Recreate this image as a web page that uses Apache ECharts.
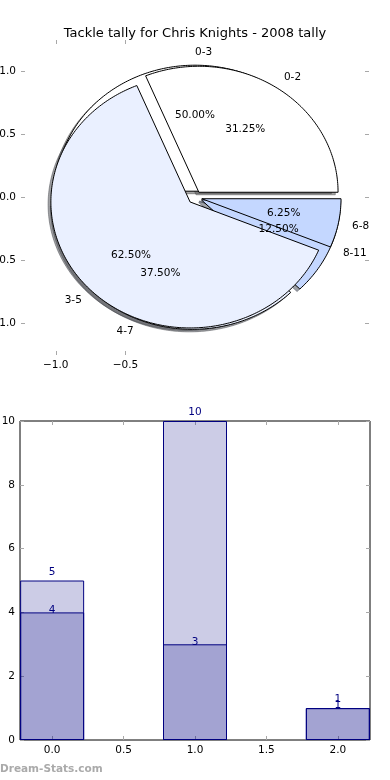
<!DOCTYPE html>
<html><head><meta charset="utf-8">
<script src="https://cdn.jsdelivr.net/npm/echarts@6/dist/echarts.min.js"></script>
<style>html,body{margin:0;padding:0;background:#fff}#c{width:390px;height:780px}</style>
</head><body><div id="c"></div>
<script>
// ---- data ----
const titleText = 'Tackle tally for Chris Knights - 2008 tally';
const barPositions = [0, 1, 2];
const seriesLightValues = [5, 10, 1];   // drawn first (lighter bars), also pie A
const seriesDarkValues = [4, 3, 1];     // drawn on top, also pie B
const pieALabels = ['0-2', '3-5', '6-8'];
const pieBLabels = ['0-3', '4-7', '8-11'];
const pieExplode = [0.05, 0.05, 0.05];
const pieColors = ['#ffffff', '#eaf0ff', '#c4d7ff'];
const pieShadowColors = ['rgba(77,77,77,0.5)', 'rgba(70,72,77,0.5)', 'rgba(59,65,77,0.5)'];
const pieXTicks = [-1.0, -0.5];
const pieYTicks = [-1.0, -0.5, 0.0, 0.5, 1.0];
const barXTicks = [0, 0.5, 1, 1.5, 2];
const watermark = 'Dream-Stats.com';

// ---- wedge geometry (matplotlib-like pie) ----
function buildWedges(values, labels) {
  const total = values.reduce((a, b) => a + b, 0);
  let acc = 0;
  return values.map((v, i) => {
    const t1 = 360 * acc / total; acc += v;
    const t2 = 360 * acc / total;
    const m = (t1 + t2) / 2 * Math.PI / 180;
    const e = pieExplode[i];
    return { t1, t2, m, cx: e * Math.cos(m), cy: e * Math.sin(m), color: pieColors[i],
      shadow: pieShadowColors[i], label: labels[i], pct: (100 * v / total).toFixed(2) + '%' };
  });
}
const wedgesA = buildWedges(seriesLightValues, pieALabels);
const wedgesB = buildWedges(seriesDarkValues, pieBLabels);
const allWedges = wedgesB.concat(wedgesA); // B first (below), A on top

function wedgePoints(api, w, dx, dy) {
  const cx = w.cx + dx, cy = w.cy + dy;
  const pts = [api.coord([cx, cy])];
  const n = Math.max(4, Math.ceil(w.t2 - w.t1));
  for (let i = 0; i <= n; i++) {
    const t = (w.t1 + (w.t2 - w.t1) * i / n) * Math.PI / 180;
    pts.push(api.coord([cx + Math.cos(t), cy + Math.sin(t)]));
  }
  return pts;
}
const FONT = 'DejaVu Sans';
const dummy = allWedges.map(() => [0, 0]);

const tickStyle = { show: true, inside: true, length: 4, lineStyle: { color: '#a8a8a8', width: 1 } };
const noLine = { show: false, onZero: false };
const fmt1 = v => (v < 0 ? '\u2212' : '') + Math.abs(v).toFixed(1);

const chart = echarts.init(document.getElementById('c'), null, { renderer: 'canvas' });
chart.setOption({
  animation: false,
  backgroundColor: '#ffffff',
  title: { text: titleText, left: 'center', top: 22, textStyle: { fontFamily: FONT, fontSize: 13, fontWeight: 'normal', color: '#000' } },
  graphic: [{ type: 'text', left: 0, top: 764, style: { text: watermark, fontFamily: FONT, fontSize: 10.5, fontWeight: 'bold', fill: '#aaaaaa' } }],
  grid: [
    { left: 21, right: 21, top: 40, bottom: 425, show: false, containLabel: false, outerBoundsMode: 'none' },
    { left: 20, right: 20, top: 421, bottom: 40, show: true, borderColor: '#000', borderWidth: 1, backgroundColor: 'transparent', containLabel: false, outerBoundsMode: 'none' }
  ],
  xAxis: [
    { gridIndex: 0, type: 'value', min: -1.25, max: 1.25, position: 'bottom', axisLine: noLine, splitLine: { show: false },
      axisTick: Object.assign({ customValues: pieXTicks }, tickStyle),
      axisLabel: { customValues: pieXTicks, formatter: fmt1, margin: 5, color: '#000', fontFamily: FONT, fontSize: 10.5 } },
    { gridIndex: 0, type: 'value', min: -1.25, max: 1.25, position: 'top', axisLine: noLine, splitLine: { show: false },
      axisTick: Object.assign({ customValues: pieXTicks }, tickStyle), axisLabel: { show: false } },
    { gridIndex: 1, type: 'value', min: -0.225, max: 2.225, position: 'bottom', axisLine: noLine, splitLine: { show: false },
      axisTick: Object.assign({ customValues: barXTicks }, tickStyle),
      axisLabel: { customValues: barXTicks, formatter: v => v.toFixed(1), margin: 5, color: '#000', fontFamily: FONT, fontSize: 10.5 } },
    { gridIndex: 1, type: 'value', min: -0.225, max: 2.225, position: 'top', axisLine: noLine, splitLine: { show: false },
      axisTick: Object.assign({ customValues: barXTicks }, tickStyle), axisLabel: { show: false } }
  ],
  yAxis: [
    { gridIndex: 0, type: 'value', min: -1.25, max: 1.25, position: 'left', axisLine: noLine, splitLine: { show: false },
      axisTick: Object.assign({ customValues: pieYTicks }, tickStyle),
      axisLabel: { customValues: pieYTicks, formatter: fmt1, margin: 5, color: '#000', fontFamily: FONT, fontSize: 10.5 } },
    { gridIndex: 0, type: 'value', min: -1.25, max: 1.25, position: 'right', axisLine: noLine, splitLine: { show: false },
      axisTick: Object.assign({ customValues: pieYTicks }, tickStyle), axisLabel: { show: false } },
    { gridIndex: 1, type: 'value', min: 0, max: 10, interval: 2, position: 'left', axisLine: noLine, splitLine: { show: false },
      axisTick: tickStyle, axisLabel: { margin: 5, color: '#000', fontFamily: FONT, fontSize: 10.5 } },
    { gridIndex: 1, type: 'value', min: 0, max: 10, interval: 2, position: 'right', axisLine: noLine, splitLine: { show: false },
      axisTick: tickStyle, axisLabel: { show: false } }
  ],
  series: [
    { type: 'custom', name: 'shadows', xAxisIndex: 0, yAxisIndex: 0, clip: false, z: 1, data: dummy,
      renderItem: (params, api) => {
        const w = allWedges[params.dataIndex];
        const pts = wedgePoints(api, w, -0.02, -0.02);
        return { type: 'polygon', shape: { points: pts }, style: { fill: w.shadow, stroke: w.shadow, lineWidth: 1 } };
      } },
    { type: 'custom', name: 'pieB', xAxisIndex: 0, yAxisIndex: 0, clip: false, z: 2, data: wedgesB.map(() => [0, 0]),
      renderItem: (params, api) => {
        const w = wedgesB[params.dataIndex];
        return { type: 'polygon', shape: { points: wedgePoints(api, w, 0, 0) }, style: { fill: w.color, stroke: '#000', lineWidth: 1 } };
      } },
    { type: 'custom', name: 'pieA', xAxisIndex: 0, yAxisIndex: 0, clip: false, z: 3, data: wedgesA.map(() => [0, 0]),
      renderItem: (params, api) => {
        const w = wedgesA[params.dataIndex];
        return { type: 'polygon', shape: { points: wedgePoints(api, w, 0, 0) }, style: { fill: w.color, stroke: '#000', lineWidth: 1 } };
      } },
    { type: 'custom', name: 'pieText', xAxisIndex: 0, yAxisIndex: 0, clip: false, z: 4, data: dummy,
      renderItem: (params, api) => {
        const w = allWedges[params.dataIndex];
        const lx = w.cx + 1.1 * Math.cos(w.m), ly = w.cy + 1.1 * Math.sin(w.m);
        const px = w.cx + 0.6 * Math.cos(w.m), py = w.cy + 0.6 * Math.sin(w.m);
        const lp = api.coord([lx, ly]), pp = api.coord([px, py]);
        return { type: 'group', children: [
          { type: 'text', x: lp[0], y: lp[1], style: { text: w.label, fill: '#000', fontFamily: FONT, fontSize: 10.5, align: lx > 0 ? 'left' : 'right', verticalAlign: 'middle' } },
          { type: 'text', x: pp[0], y: pp[1], style: { text: w.pct, fill: '#000', fontFamily: FONT, fontSize: 10.5, align: 'center', verticalAlign: 'middle' } }
        ] };
      } },
    { type: 'bar', name: 'light', xAxisIndex: 2, yAxisIndex: 2, barWidth: 64, barGap: '-100%',
      data: barPositions.map((x, i) => [x, seriesLightValues[i]]),
      itemStyle: { color: 'rgba(0,0,128,0.2)', borderColor: '#000080', borderWidth: 1 },
      label: { show: true, position: 'top', distance: 3, color: '#000080', fontFamily: FONT, fontSize: 10.5 } },
    { type: 'bar', name: 'dark', xAxisIndex: 2, yAxisIndex: 2, barWidth: 64, barGap: '-100%',
      data: barPositions.map((x, i) => [x, seriesDarkValues[i]]),
      itemStyle: { color: 'rgba(0,0,128,0.2)', borderColor: '#000080', borderWidth: 1 },
      label: { show: true, position: 'top', distance: -3, color: '#000080', fontFamily: FONT, fontSize: 10.5 } }
  ]
});
</script></body></html>
